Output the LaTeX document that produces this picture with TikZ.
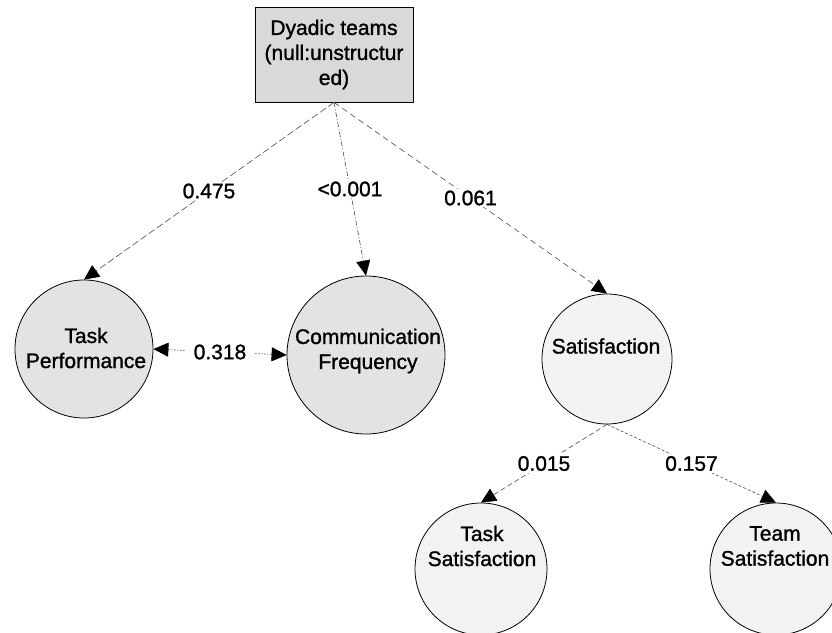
\documentclass[tikz,border=0pt]{standalone}
\usepackage{fontspec}
\setmainfont[FakeBold=1.2]{Liberation Sans}
\usetikzlibrary{arrows.meta}

\tikzset{
  txt/.style={font=\fontsize{21}{25}\selectfont, align=center, inner sep=0pt},
  rootbox/.style={draw=black, line width=0.8pt, fill=black!15, minimum width=158pt,
    minimum height=95pt, inner sep=0pt, txt},
  bubble/.style={circle, draw=black, line width=0.8pt, inner sep=0pt},
  darkbubble/.style={bubble, fill=black!11},
  lightbubble/.style={bubble, fill=black!5},
  lab/.style={txt, fill=white, inner sep=2pt},
  tip/.tip={Triangle[length=15pt,width=14pt,color=black]},
  link/.style={line width=0.6pt, draw=black!70, -tip},
}

\begin{document}
\begin{tikzpicture}[x=1pt, y=-1pt]
  \useasboundingbox (0,0) rectangle (832,632);
  \clip (0,0) rectangle (832,632);

  % root of the tree
  \node[rootbox] (root) at (334,54.5) {Dyadic teams\\(null:unstructur\\ed)};

  % outcome circles
  \node[darkbubble, minimum size=138pt] (tp) at (84,349) {};
  \node[darkbubble, minimum size=158pt] (cf) at (366,355) {};
  \node[lightbubble, minimum size=130pt] (sat) at (607,359) {};
  \node[lightbubble, minimum size=132pt] (ts) at (481,569) {};
  \node[lightbubble, minimum size=132pt] (team) at (776,569) {};

  % circle captions
  \node[txt] (tp-text) at (86,348) {Task\\Performance};
  \node[txt] (cf-text) at (368,351) {Communication\\Frequency};
  \node[txt] (sat-text) at (606,346) {Satisfaction};
  \node[txt] (ts-text) at (482,546) {Task\\Satisfaction};
  \node[txt] (team-text) at (775,546) {Team\\Satisfaction};

  % links with p-values
  \draw[link, dash pattern=on 7pt off 3pt] (root.south) -- node[lab] {0.475} (tp.north);
  \draw[link, dash pattern=on 5pt off 2pt on 1pt off 2pt] (root.south) -- node[lab] {<0.001} (cf.north);
  \draw[link, dash pattern=on 6pt off 4pt] (root.south) -- node[lab] {0.061} (sat.north);
  \draw[link, tip-tip, dash pattern=on 1.5pt off 1.5pt] (tp.east) -- node[lab, inner xsep=8pt] {0.318} (cf.west);
  \draw[link, dash pattern=on 5pt off 3pt] (sat.south) -- node[lab] {0.015} (ts.north);
  \draw[link, dash pattern=on 3pt off 2pt] (sat.south) -- node[lab] {0.157} (team.north);
\end{tikzpicture}
\end{document}
